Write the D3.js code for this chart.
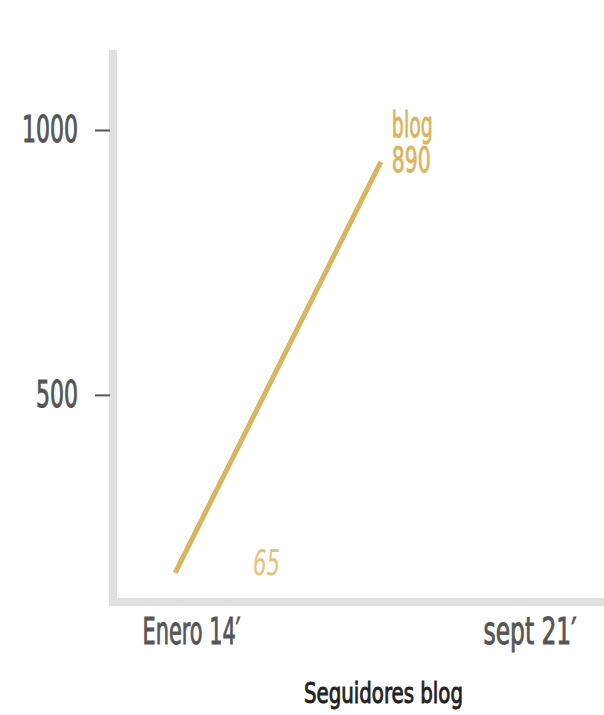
<!DOCTYPE html>
<html>
<head>
<meta charset="utf-8">
<script src="https://cdn.jsdelivr.net/npm/d3@7"></script>
<style>
  body { margin: 0; background: #fff; }
  text { font-family: "DejaVu Sans", sans-serif; font-stretch: condensed; }
</style>
</head>
<body>
<div id="chart-area"></div>
<script>
// Data
const xTickLabels = ["Enero 14\u2032", "sept 21\u2032"]
const xTickMonths = [0, 92]            // months since Jan 2014
const yTickValues = [500, 1000]
const lineMonths = [-4.3, 51.6]
const lineValues = [164, 940]
const startLabel = "65"
const endLabels = ["blog", "890"]
const title = "Seguidores blog"

const canvas = { width: 604, height: 715 }
const gold = '#dbb461'

// squeeze a text to a target width (the original face is a condensed one)
// and thicken it a little with a stroke of its own colour
function squeeze(sel, w) {
  sel.attr('textLength', w)
    .attr('lengthAdjust', 'spacingAndGlyphs')
    .attr('stroke', sel.attr('fill'))
    .attr('stroke-width', 0.9)
}

let svg = d3.select('#chart-area')
  .append('svg')
    .attr('width', canvas.width)
    .attr('height', canvas.height)

// Scales
let x = d3.scaleLinear()
  .domain([0, 92])
  .range([191, 529.5])
let y = d3.scaleLinear()
  .domain([109, 1151])
  .range([602, 50])

// Axis bars (thick light grey)
svg.append('rect')
  .attr('x', 109).attr('y', 50)
  .attr('width', 8).attr('height', 556)
  .attr('fill', '#e0e0e0')
svg.append('rect')
  .attr('x', 109).attr('y', 598)
  .attr('width', canvas.width - 109).attr('height', 8)
  .attr('fill', '#e0e0e0')

// Y axis
let yAxis = d3.axisLeft(y)
  .tickValues(yTickValues)
  .tickSize(15)
  .tickPadding(17)
  .tickFormat(d3.format('d'))
let yg = svg.append('g')
  .attr('transform', 'translate(110, 0)')
  .call(yAxis)
yg.select('.domain').remove()
yg.selectAll('.tick line').attr('stroke', '#555').attr('stroke-width', 2)
yg.selectAll('.tick text')
  .attr('fill', '#555')
  .attr('font-size', 37)
  .attr('font-family', null)
  .attr('dy', 12)
  .each(function (d) { squeeze(d3.select(this), String(d).length * 14) })

// X axis
let xAxis = d3.axisBottom(x)
  .tickValues(xTickMonths)
  .tickSize(0)
  .tickFormat((d, i) => xTickLabels[i])
let xg = svg.append('g')
  .attr('transform', 'translate(0, 606)')
  .call(xAxis)
xg.select('.domain').remove()
xg.selectAll('.tick text')
  .attr('fill', '#555')
  .attr('font-size', 37)
  .attr('font-family', null)
  .attr('y', 38)
  .attr('dy', 0)
  .each(function (d, i) { squeeze(d3.select(this), [98, 93][i]) })

// Line
const points = lineMonths.map((m, i) => [m, lineValues[i]])
svg.append('path')
  .datum(points)
  .attr('fill', 'none')
  .attr('stroke', gold)
  .attr('stroke-width', 5)
  .attr('d', d3.line().x(d => x(d[0])).y(d => y(d[1])))

// Labels
svg.append('text')
  .attr('x', 253).attr('y', 575)
  .attr('font-style', 'italic')
  .attr('font-size', 36)
  .attr('fill', '#e3c27e')
  .text(startLabel)
  .call(squeeze, 27)
  .attr('stroke-width', 0)

const last = points[points.length - 1]
endLabels.forEach((t, i) => {
  svg.append('text')
    .attr('x', x(last[0]) + 11)
    .attr('y', y(last[1]) - 25 + i * 35)
    .attr('font-size', 36)
    .attr('fill', gold)
    .text(t)
    .call(squeeze, [41, 39][i])
})

// Title
svg.append('text')
  .attr('x', 304).attr('y', 703)
  .attr('font-size', 29)
  .attr('fill', '#222')
  .text(title)
  .call(squeeze, 159)
</script>
</body>
</html>
